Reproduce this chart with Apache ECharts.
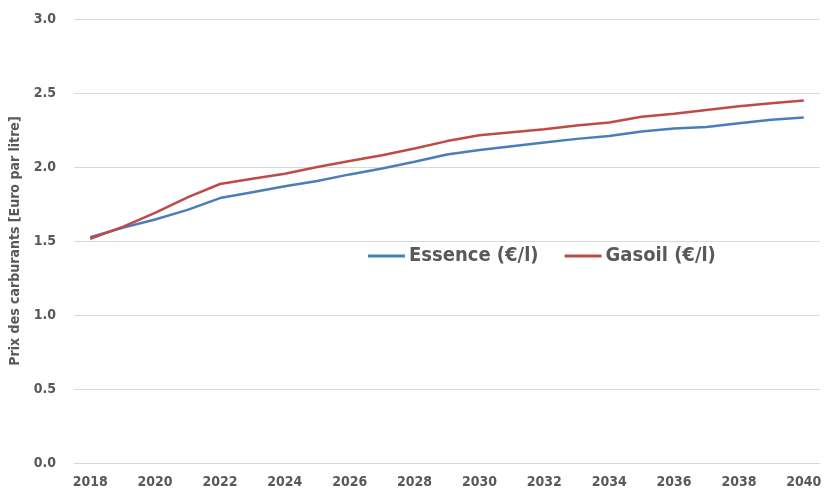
<!DOCTYPE html>
<html>
<head>
<meta charset="utf-8">
<script src="https://cdn.jsdelivr.net/npm/echarts@6/dist/echarts.min.js"></script>
<style>
  html, body { margin: 0; padding: 0; background: #fff; }
  #main { width: 827px; height: 497px; }
</style>
</head>
<body>
<div id="main"></div>
<script>
  // années 2018-2040
  const years = []
  for (let y = 2018; y <= 2040; y++) years.push(String(y))
  const essence = [1.525, 1.59, 1.645, 1.71, 1.79, 1.83, 1.87, 1.905, 1.95, 1.99, 2.035, 2.085,
    2.115, 2.14, 2.165, 2.19, 2.21, 2.24, 2.26, 2.27, 2.295, 2.32, 2.335]
  const gasoil = [1.515, 1.595, 1.69, 1.795, 1.885, 1.92, 1.955, 2.0, 2.04, 2.08, 2.125, 2.175,
    2.215, 2.235, 2.255, 2.28, 2.3, 2.34, 2.36, 2.385, 2.41, 2.43, 2.45]
  const yTicks = [0, 0.5, 1, 1.5, 2, 2.5, 3]

  const font = "'Liberation Sans Narrow', 'DejaVu Sans Condensed', 'Noto Sans', sans-serif"
  const chart = echarts.init(document.getElementById('main'))
  const option = {
    animation: false,
    textStyle: { fontFamily: font },
    grid: { left: 74, right: 7, top: 19, bottom: 34 },
    legend: {
      left: 363,
      top: 241,
      icon: 'rect',
      itemWidth: 37,
      itemHeight: 3,
      itemGap: 26,
      textStyle: { fontSize: 20, color: '#595959', fontWeight: 'bold', fontFamily: font, padding: [0, 0, 0, -1] },
      data: ['Essence (€/l)', 'Gasoil (€/l)'],
    },
    xAxis: {
      type: 'category',
      data: years,
      boundaryGap: true,
      axisLine: { lineStyle: { color: '#d9d9d9' } },
      axisTick: { show: false },
      axisLabel: {
        interval: 1,
        color: '#595959',
        fontSize: 14,
        fontWeight: 'bold',
        margin: 12,
      },
    },
    yAxis: {
      type: 'value',
      min: 0,
      max: 3,
      interval: 0.5,
      name: 'Prix des carburants [Euro par litre]',
      nameLocation: 'middle',
      nameGap: 52,
      nameTextStyle: { fontSize: 14, color: '#595959', fontWeight: 'bold' },
      axisLine: { show: false },
      axisTick: { show: false },
      splitLine: { lineStyle: { color: '#d9d9d9' } },
      axisLabel: {
        color: '#595959',
        fontSize: 14,
        fontWeight: 'bold',
        margin: 18,
        formatter: (v) => (yTicks.includes(v) ? v.toFixed(1) : ''),
      },
    },
    series: [
      {
        name: 'Essence (€/l)',
        type: 'line',
        data: essence,
        showSymbol: false,
        lineStyle: { width: 2.5, color: '#4a7ebb' },
        itemStyle: { color: '#4a7ebb' },
      },
      {
        name: 'Gasoil (€/l)',
        type: 'line',
        data: gasoil,
        showSymbol: false,
        lineStyle: { width: 2.5, color: '#be4b48' },
        itemStyle: { color: '#be4b48' },
      },
    ],
  }
  chart.setOption(option)
</script>
</body>
</html>
